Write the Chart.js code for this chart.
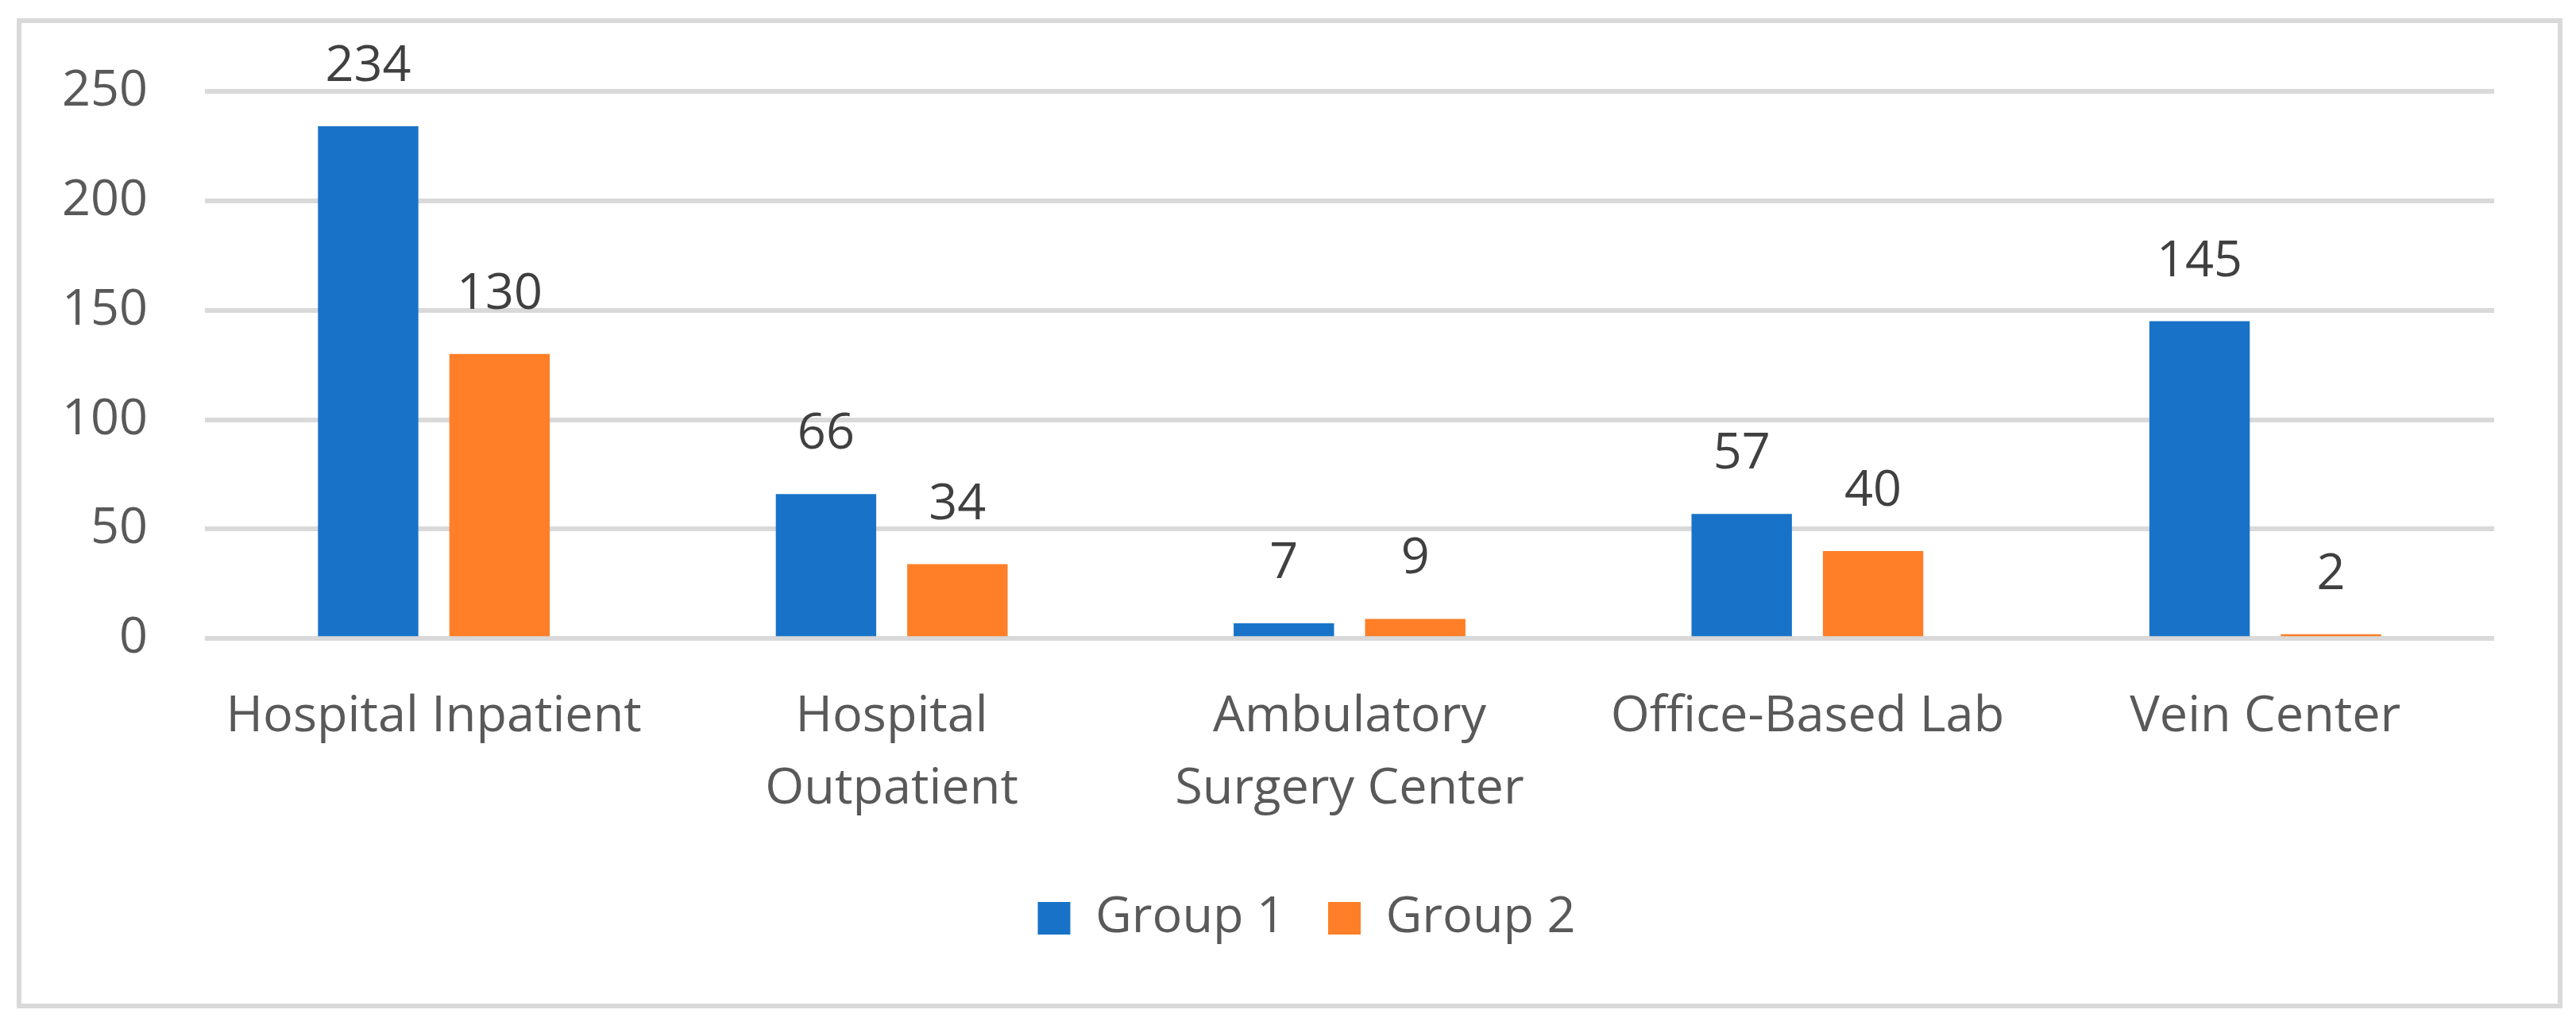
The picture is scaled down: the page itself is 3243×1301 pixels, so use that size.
<!DOCTYPE html>
<html>
<head>
<meta charset="utf-8">
<script src="https://cdn.jsdelivr.net/npm/chart.js@4.4.1/dist/chart.umd.min.js"></script>
<style>
  html, body { margin: 0; padding: 0; background: #fff; }
  #wrap { position: relative; width: 3243px; height: 1301px; }
  #frame {
    position: absolute; left: 21px; top: 23px; width: 3205px; height: 1247px;
    border: 6px solid #d9d9d9; box-sizing: border-box;
  }
  canvas { position: absolute; left: 0; top: 0; }
</style>
</head>
<body>
<div id="wrap">
  <div id="frame"></div>
  <canvas id="myChart" width="3243" height="1301"></canvas>
</div>
<script>
var categories = [
  ["Hospital Inpatient"],
  ["Hospital", "Outpatient"],
  ["Ambulatory", "Surgery Center"],
  ["Office-Based Lab"],
  ["Vein Center"]
];
var group1 = [234, 66, 7, 57, 145];
var group2 = [130, 34, 9, 40, 2];
var yTicks = [0, 50, 100, 150, 200, 250];

var FONT = "'Open Sans', sans-serif";
var FSIZE = 63;

// valeurs au-dessus des barres
var barLabels = {
  id: 'barLabels',
  afterDatasetsDraw: function (chart) {
    var ctx = chart.ctx;
    ctx.save();
    ctx.font = FSIZE + 'px ' + FONT;
    ctx.fillStyle = '#404040';
    ctx.textAlign = 'center';
    ctx.textBaseline = 'alphabetic';
    chart.data.datasets.forEach(function (ds, i) {
      chart.getDatasetMeta(i).data.forEach(function (bar, j) {
        ctx.fillText(String(ds.data[j]), bar.x, bar.y - 57);
      });
    });
    ctx.restore();
  }
};

// la légende est un peu décalée dans l'original
var legendShift = {
  id: 'legendShift',
  afterLayout: function (chart) {
    var lg = chart.legend;
    lg.left += 55;
    lg.right += 55;
    lg.top -= 14;
    lg.bottom -= 14;
  }
};

new Chart('myChart', {
  type: 'bar',
  data: {
    labels: categories,
    datasets: [{
      label: 'Group 1',
      data: group1,
      backgroundColor: '#1873c8',
      categoryPercentage: 0.574,
      barPercentage: 0.764
    }, {
      label: 'Group 2',
      data: group2,
      backgroundColor: '#fe7f27',
      categoryPercentage: 0.574,
      barPercentage: 0.764
    }]
  },
  options: {
    responsive: false,
    animation: false,
    devicePixelRatio: 1,
    layout: {
      padding: { left: 40, right: 103, top: 115, bottom: 89 }
    },
    plugins: {
      tooltip: { enabled: false },
      legend: {
        position: 'bottom',
        labels: {
          color: '#595959',
          font: { family: FONT, size: FSIZE },
          boxWidth: 41,
          boxHeight: 41,
          padding: 54
        }
      }
    },
    scales: {
      x: {
        grid: { display: false },
        border: { display: false },
        ticks: {
          color: '#595959',
          font: { family: FONT, size: FSIZE, lineHeight: 1.45 },
          padding: 45,
          maxRotation: 0,
          autoSkip: false
        }
      },
      y: {
        min: 0,
        max: 250,
        afterBuildTicks: function (scale) {
          scale.ticks = yTicks.map(function (v) { return { value: v }; });
        },
        afterFit: function (scale) { scale.width = 218; },
        grid: { color: '#d9d9d9', lineWidth: 6, drawTicks: false },
        border: { display: false },
        ticks: {
          color: '#595959',
          font: { family: FONT, size: FSIZE },
          padding: 72
        }
      }
    }
  },
  plugins: [barLabels, legendShift]
});
</script>
</body>
</html>
